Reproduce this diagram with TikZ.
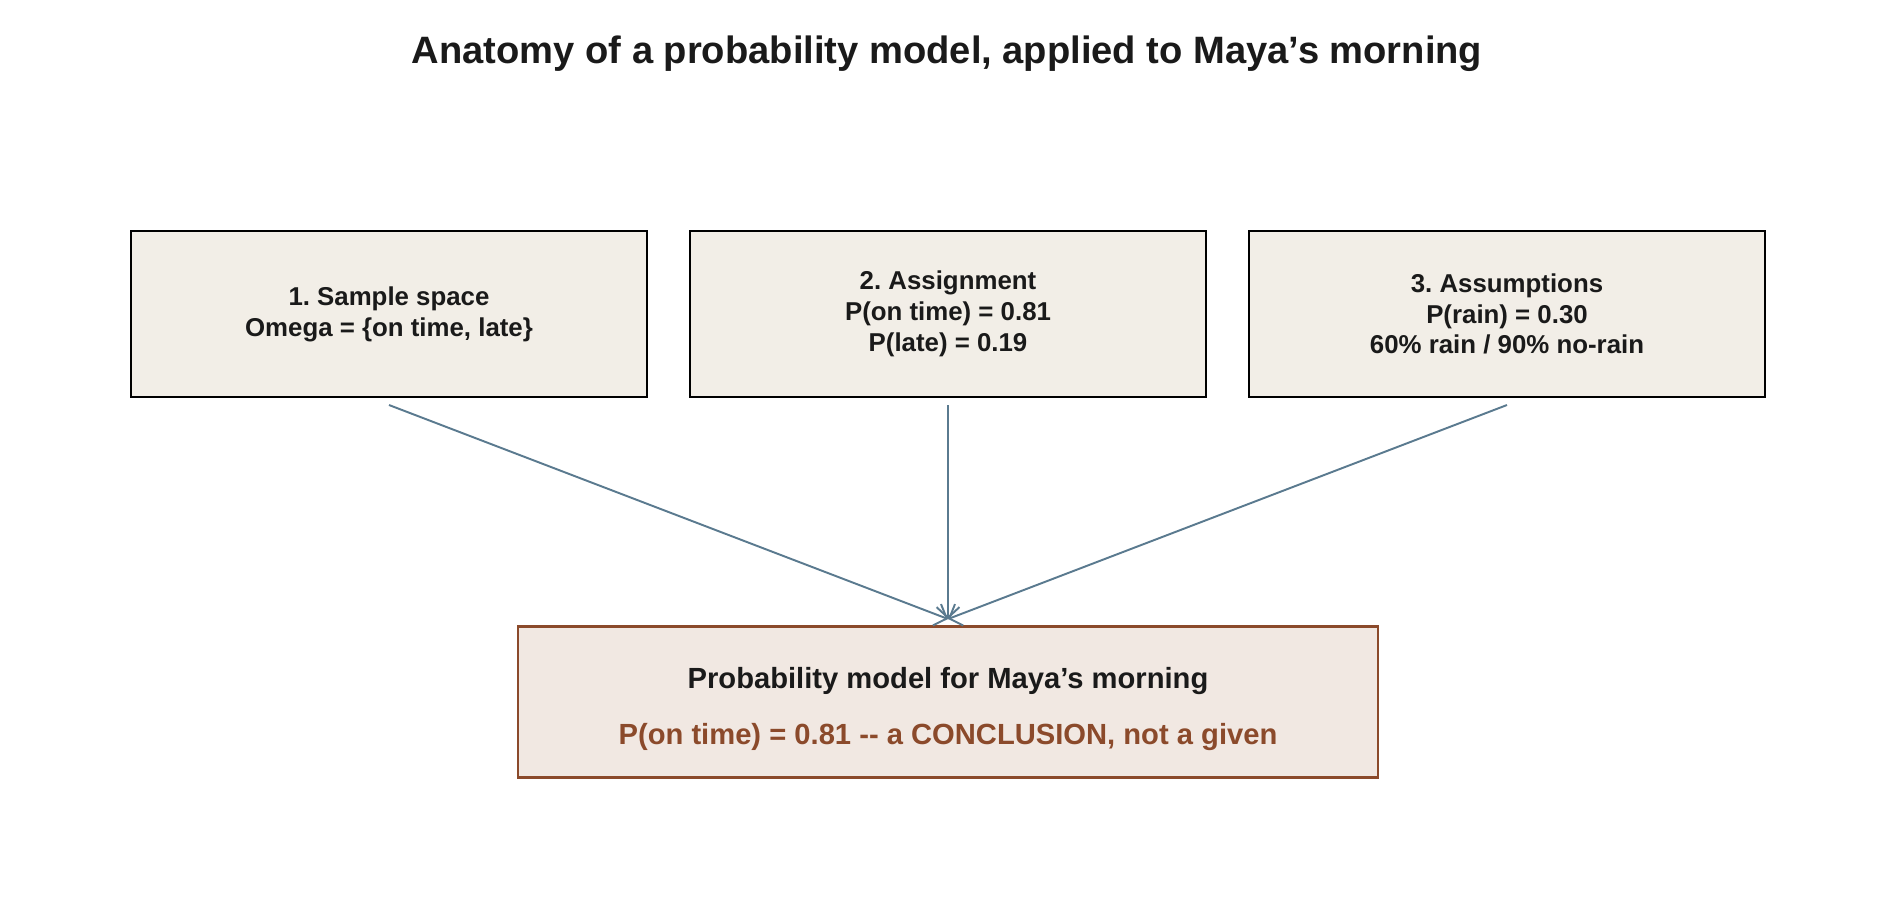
\documentclass[tikz,border=0pt]{standalone}
\usepackage{fontspec}
\setmainfont{Liberation Sans}
\usetikzlibrary{arrows.meta}
\definecolor{boxfill}{HTML}{F2EEE7}
\definecolor{botfill}{HTML}{F1E8E2}
\definecolor{rust}{HTML}{8B4A2B}
\definecolor{arr}{HTML}{5A7A8F}
\definecolor{txt}{HTML}{1A1A1A}
\newcommand{\apos}{\char"27\relax}
\frenchspacing
\begin{document}
\begin{tikzpicture}[x=0.02cm,y=-0.02cm,
  box/.style={draw=black,line width=1.1pt,fill=boxfill,minimum width=10.32cm,minimum height=3.32cm,align=center,font=\fontsize{14.7}{17.5}\selectfont\bfseries,text=txt,inner sep=0pt},
  conn/.style={draw=arr,line width=1.1pt,-{Straight Barb[length=6pt,width=13pt]}}]
\useasboundingbox (0,0) rectangle (1900,900);
\node[font=\fontsize{21.7}{25}\selectfont\bfseries,text=txt] (title) at (947,54) {Anatomy of a probability model, applied to Maya\apos s morning};
\node[box] (b1) at (389,314) {1. Sample space\\Omega = \{on time, late\}};
\node[box] (b2) at (948,314) {2. Assignment\\P(on time) = 0.81\\P(late) = 0.19};
\node[box] (b3) at (1507,314) {3. Assumptions\\P(rain) = 0.30\\60\% rain / 90\% no-rain};
\node[draw=rust,line width=1.3pt,fill=botfill,minimum width=17.2cm,minimum height=3.02cm,inner sep=0pt] (m) at (948,702) {};
\node[font=\fontsize{16.6}{19}\selectfont\bfseries,text=txt] (mt) at (948,681) {Probability model for Maya\apos s morning};
\node[font=\fontsize{16.6}{19}\selectfont\bfseries,text=rust] (ms) at (948,737) {P(on time) = 0.81 -{}- a CONCLUSION, not a given};
\coordinate (tip) at (948,619);
\coordinate (s1) at (389,405);
\coordinate (s2) at (948,405);
\coordinate (s3) at (1507,405);
\draw[conn] (s1) -- (tip);
\draw[conn] (s2) -- (tip);
\draw[conn] (s3) -- (tip);
\end{tikzpicture}
\end{document}
